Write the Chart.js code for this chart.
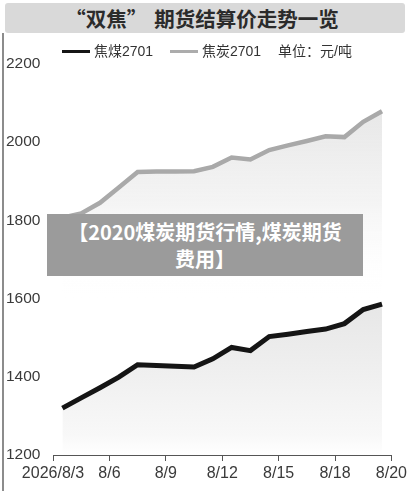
<!DOCTYPE html>
<html>
<head>
<meta charset="utf-8">
<script src="https://cdn.jsdelivr.net/npm/chart.js@4/dist/chart.umd.min.js"></script>
<style>
  html, body { margin: 0; padding: 0; background: #ffffff; }
  #page { position: relative; width: 410px; height: 491px; overflow: hidden; background: #fff;
          font-family: "Liberation Sans", "Noto Sans CJK SC", sans-serif; }
  #titlebar { position: absolute; left: 5px; top: 3px; width: 400px; height: 30px; background: #d9d9d9;
              border-radius: 3px; text-align: center; line-height: 31px; font-size: 20.5px; font-weight: bold;
              color: #2b2b2b; font-family: "Noto Sans CJK SC", sans-serif; padding-right: 6px; box-sizing: border-box; }
  #leftline { position: absolute; left: 2px; top: 33px; width: 1.5px; height: 460px; background: #8c8c8c; }
  #legend { position: absolute; top: 41px; left: 0; width: 410px; height: 20px; font-size: 14px; color: #333;
            font-family: "Liberation Sans", "Noto Sans CJK SC", sans-serif; }
  .sw { position: absolute; top: 9px; height: 3px; width: 28px; }
  .lt { position: absolute; top: 1px; line-height: 18px; white-space: nowrap; }
  #chartbox { position: absolute; left: 0; top: 0; width: 410px; height: 491px; }
  #overlay { position: absolute; left: 47px; top: 214px; width: 316px; height: 62px; background: #9b9b9b;
             color: #fff; font-weight: bold; font-size: 20px; line-height: 27px; text-align: center;
             font-family: "Noto Sans CJK SC", sans-serif; padding-top: 4px; box-sizing: border-box; z-index: 5; }
</style>
</head>
<body>
<div id="page">
  <div id="titlebar">“双焦”<span style="margin-left:7px">期货结算价走势一览</span></div>
  <div id="leftline"></div>
  <div id="chartbox"><canvas id="c"></canvas></div>
  <div id="legend">
    <div class="sw" style="left:62px;background:#151515;"></div>
    <div class="lt" style="left:94px;">焦煤2701</div>
    <div class="sw" style="left:170px;background:#acacac;"></div>
    <div class="lt" style="left:202px;">焦炭2701</div>
    <div class="lt" style="left:278px;">单位：元/吨</div>
  </div>
  <div id="overlay">【2020煤炭期货行情,煤炭期货<br>费用】</div>
</div>
<script>
// Categories: daily points 8/3 .. 8/20
const categories = ['8/3','8/4','8/5','8/6','8/7','8/8','8/9','8/10','8/11','8/12',
                    '8/13','8/14','8/15','8/16','8/17','8/18','8/19','8/20'];
// 焦煤2701 (coking coal) settlement prices
const cokingCoal = [1320, 1346, 1372, 1399, 1431, 1429, 1427, 1425, 1446, 1475,
                    1467, 1503, 1509, 1516, 1522, 1536, 1572, 1586];
// 焦炭2701 (coke) settlement prices
const coke = [1807, 1818, 1845, 1884, 1924, 1925, 1925, 1926, 1937, 1961,
              1956, 1980, 1992, 2003, 2015, 2013, 2052, 2079];
// X tick labels (at every 3rd category boundary)
const xTickLabels = ['2026/8/3','8/6','8/9','8/12','8/15','8/18','8/20'];
const yMin = 1200, yMax = 2200, yStep = 200;

function toPoints(arr) { return arr.map((v, i) => ({ x: i + 0.5, y: v })); }

function grayFill(ctx) {
  const chart = ctx.chart, ca = chart.chartArea;
  if (!ca) return 'rgba(0,0,0,0)';
  const g = chart.ctx.createLinearGradient(0, ca.top, 0, ca.bottom);
  g.addColorStop(0.10, 'rgba(222,222,222,0.75)');
  g.addColorStop(0.35, 'rgba(236,236,236,0.6)');
  g.addColorStop(0.60, 'rgba(255,255,255,0)');
  g.addColorStop(1.00, 'rgba(255,255,255,0)');
  return g;
}
function blackFill(ctx) {
  const chart = ctx.chart, ca = chart.chartArea;
  if (!ca) return 'rgba(0,0,0,0)';
  const g = chart.ctx.createLinearGradient(0, ca.top, 0, ca.bottom);
  g.addColorStop(0.60, '#e6e6e6');
  g.addColorStop(0.80, '#f0f0f0');
  g.addColorStop(0.95, '#f8f8f8');
  g.addColorStop(1.00, '#ffffff');
  return g;
}

new Chart(document.getElementById('c'), {
  type: 'line',
  data: {
    datasets: [
      { label: '焦煤2701', data: toPoints(cokingCoal), borderColor: '#151515', borderWidth: 5,
        pointRadius: 0, tension: 0, fill: 'start', backgroundColor: blackFill },
      { label: '焦炭2701', data: toPoints(coke), borderColor: '#a9a9a9', borderWidth: 4.5,
        pointRadius: 0, tension: 0, fill: 'start', backgroundColor: grayFill }
    ]
  },
  options: {
    responsive: true,
    maintainAspectRatio: false,
    animation: false,
    layout: { padding: { left: 6, right: 17, top: 64, bottom: 6 } },
    plugins: { legend: { display: false }, tooltip: { enabled: false } },
    scales: {
      x: {
        type: 'linear', min: 0, max: categories.length,
        grid: { display: true, drawOnChartArea: false, tickLength: 6, color: '#555', lineWidth: 1 },
        border: { display: true, color: '#555', width: 1 },
        ticks: {
          stepSize: 3, autoSkip: false, maxRotation: 0, padding: 3, color: '#3a3a3a',
          font: { family: 'Liberation Sans', size: 16 },
          callback: (v) => { const k = Math.round(v / 3); return (v % 3 === 0 && xTickLabels[k] !== undefined) ? xTickLabels[k] : ''; }
        },
        afterFit: (s) => { s.height = 30; }
      },
      y: {
        min: yMin, max: yMax,
        grid: { display: false },
        border: { display: false },
        ticks: { stepSize: yStep, crossAlign: 'far', padding: 4, color: '#3a3a3a',
                 font: { family: 'Liberation Sans', size: 15.5 },
                 callback: (v) => String(v) },
        afterFit: (s) => { s.width = 47; }
      }
    }
  }
});
</script>
</body>
</html>
